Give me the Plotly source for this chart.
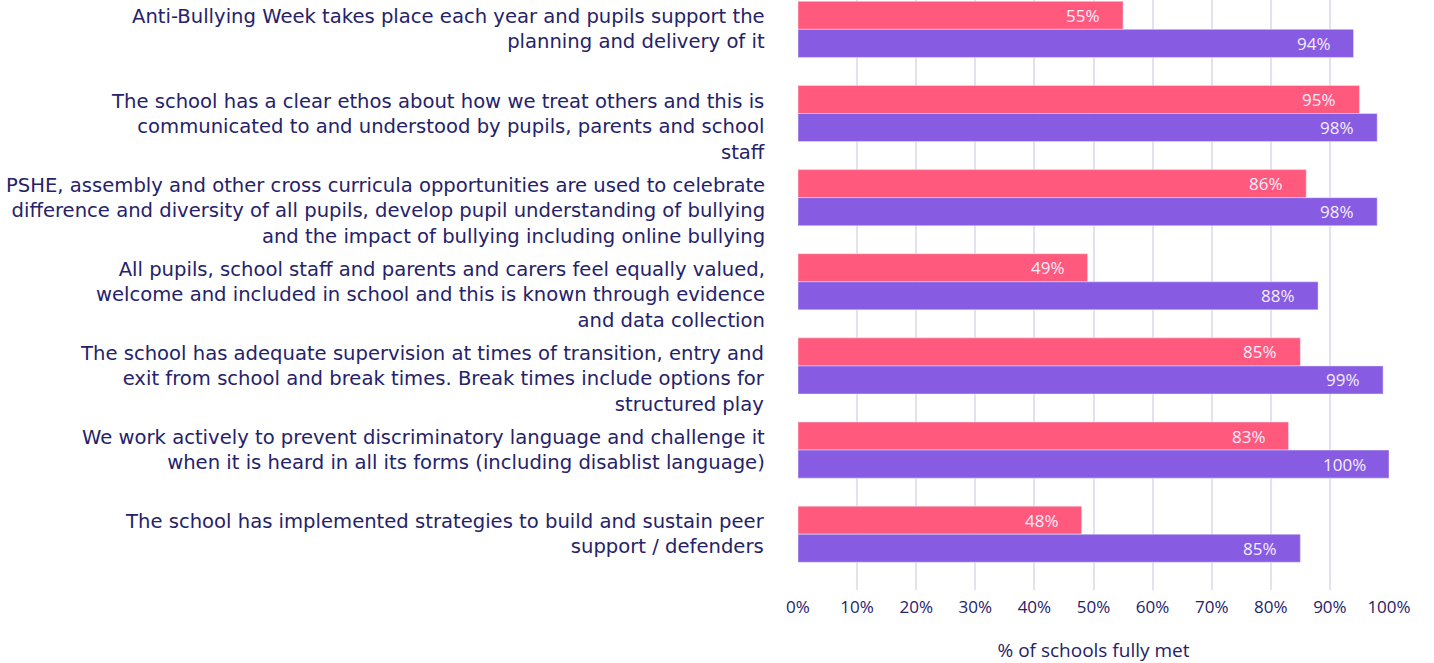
import plotly.graph_objects as go

statements = [
    "Anti-Bullying Week takes place each year and pupils support the<br>planning and delivery of it",
    "The school has a clear ethos about how we treat others and this is<br>communicated to and understood by pupils, parents and school<br>staff",
    "PSHE, assembly and other cross curricula opportunities are used to celebrate<br>difference and diversity of all pupils, develop pupil understanding of bullying<br>and the impact of bullying including online bullying",
    "All pupils, school staff and parents and carers feel equally valued,<br>welcome and included in school and this is known through evidence<br>and data collection",
    "The school has adequate supervision at times of transition, entry and<br>exit from school and break times. Break times include options for<br>structured play",
    "We work actively to prevent discriminatory language and challenge it<br>when it is heard in all its forms (including disablist language)",
    "The school has implemented strategies to build and sustain peer<br>support / defenders",
]
series_a = [55, 95, 86, 49, 85, 83, 48]
series_b = [94, 98, 98, 88, 99, 100, 85]
x_ticks = [0, 10, 20, 30, 40, 50, 60, 70, 80, 90, 100]
x_tick_labels = [f"{v}%" for v in x_ticks]

PINK = "#FF5A7D"
PURPLE = "#885BE3"
NAVY = "#25226A"
FONT = "Open Sans"
LABEL_FONT = "DejaVu Sans"

idx = list(range(len(statements)))

fig = go.Figure()
fig.add_trace(go.Bar(y=idx, x=series_a, orientation="h", marker_color=PINK,
                     offsetgroup="a", showlegend=False))
fig.add_trace(go.Bar(y=idx, x=series_b, orientation="h", marker_color=PURPLE,
                     offsetgroup="b", showlegend=False))

annotations = []
# value labels inside the bar ends
for i, (a, b) in enumerate(zip(series_a, series_b)):
    for val, off in ((a, -0.167), (b, 0.167)):
        annotations.append(dict(
            x=val, y=i + off, xref="x", yref="y", text=f"{val}%",
            showarrow=False, xanchor="right", yanchor="middle", xshift=-21,
            font=dict(family=FONT, size=17, color="#F4EEFF"),
        ))
# statement labels on the left
for i, s in enumerate(statements):
    annotations.append(dict(
        x=0, y=i, xref="paper", yref="y", text=s, showarrow=False,
        xanchor="right", yanchor="top", align="right", xshift=-31, yshift=26,
        font=dict(family=LABEL_FONT, size=19.6, color=NAVY),
    ))

fig.update_layout(
    width=1434, height=663,
    margin=dict(l=798, r=45, t=0, b=73),
    paper_bgcolor="white", plot_bgcolor="white",
    barmode="group", bargap=0.333, bargroupgap=0,
    annotations=annotations,
    xaxis=dict(
        range=[0, 100], tickvals=x_ticks, ticktext=x_tick_labels,
        showgrid=True, gridcolor="#E4E1F3", gridwidth=2,
        zeroline=False, showline=False, ticks="", ticklen=0,
        ticklabelstandoff=5,
        tickfont=dict(family=FONT, size=17, color=NAVY),
        title=dict(text="% of schools fully met", standoff=30,
                   font=dict(family=FONT, size=19, color=NAVY)),
    ),
    yaxis=dict(
        range=[6.663, -0.349], showticklabels=False, showgrid=False,
        zeroline=False, showline=False, ticks="",
    ),
)

fig.write_html("out.html")
